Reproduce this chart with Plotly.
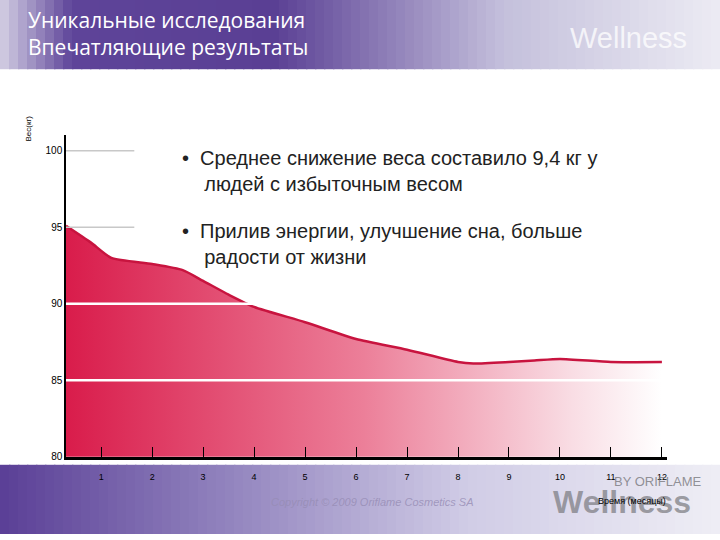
import plotly.graph_objects as go

months = [0.31, 0.8, 1.2, 2, 2.6, 3, 3.5, 4, 5, 6, 7, 8, 8.3, 9, 9.5, 10, 11, 12]
weight = [95.1, 94.0, 93.0, 92.6, 92.2, 91.5, 90.6, 89.8, 88.8, 87.7, 87.0, 86.2, 86.1, 86.2, 86.3, 86.4, 86.2, 86.2]
xticks = list(range(1, 13))
yticks = [80, 85, 90, 95, 100]

fig = go.Figure()
fig.add_trace(go.Scatter(x=months, y=weight, mode="lines", line=dict(color="#c8143f", width=2.5, shape="spline", smoothing=0.6),
                         fill="tozeroy",
                         fillgradient=dict(type="horizontal",
                                           colorscale=[[0, "#d91c4b"], [0.5, "#ec7f99"], [0.85, "#f9dde4"], [1, "#ffffff"]]),
                         hoverinfo="skip"))

shapes = []
N = 80
def hexmix(c1, c2, t):
    a = [int(c1[i:i+2], 16) for i in (1, 3, 5)]
    b = [int(c2[i:i+2], 16) for i in (1, 3, 5)]
    return "#%02x%02x%02x" % tuple(round(a[k] + (b[k]-a[k])*t) for k in range(3))
def grad(stops, y0, y1):
    for i in range(N):
        f = (i + 0.5) / N
        for j in range(len(stops)-1):
            if stops[j][0] <= f <= stops[j+1][0]:
                t = (f - stops[j][0]) / (stops[j+1][0] - stops[j][0])
                col = hexmix(stops[j][1], stops[j+1][1], t)
                break
        shapes.append(dict(type="rect", xref="paper", yref="paper", x0=i/N, x1=(i+1)/N+0.002, y0=y0, y1=y1,
                           fillcolor=col, line=dict(width=0), layer="below"))
grad([(0, "#d4d0e4"), (0.1, "#5e4499"), (0.38, "#5a3f94"), (0.7, "#c4c0dc"), (1, "#ecebf3")], 1-70/540, 1)
grad([(0, "#5a3f96"), (0.3, "#8f80bc"), (0.65, "#d0cce6"), (1, "#efeef5")], 0, 1-470/540)

for yv in [100, 95]:
    shapes.append(dict(type="line", xref="x", yref="y", x0=0.31, x1=1.65, y0=yv, y1=yv, line=dict(color="#c8c8c8", width=1.5)))
for yv in [90, 85]:
    shapes.append(dict(type="line", xref="x", yref="y", x0=0.31, x1=12.1, y0=yv, y1=yv, line=dict(color="white", width=2.5), layer="above"))

ann = [
    dict(text="Уникальные исследования<br>Впечатляющие результаты", x=26/720, y=1-4/540, xanchor="left", yanchor="top",
         font=dict(size=21, color="white", family="Open Sans"), align="left"),
    dict(text="Wellness", x=628/720, y=1-38/540, font=dict(size=29, color="rgba(255,255,255,0.75)", family="Liberation Sans")),
    dict(text="•  Среднее снижение веса составило 9,4 кг у<br>    людей с избыточным весом", x=180/720, y=1-147/540,
         xanchor="left", yanchor="top", align="left", font=dict(size=20, color="#222", family="Liberation Sans")),
    dict(text="•  Прилив энергии, улучшение сна, больше<br>    радости от жизни", x=180/720, y=1-220/540,
         xanchor="left", yanchor="top", align="left", font=dict(size=20, color="#222", family="Liberation Sans")),
    dict(text="Вес(кг)", x=29/720, y=1-130/540, textangle=-90, font=dict(size=8, color="black", family="Liberation Sans")),
    dict(text="<b>Wellness</b>", x=622/720, y=1-508/540, font=dict(size=32, color="rgba(120,120,125,0.7)", family="Liberation Sans")),
    dict(text="BY ORIFLAME", x=658/720, y=1-487/540, font=dict(size=13, color="rgba(120,120,125,0.8)", family="Liberation Sans")),
    dict(text="Время (месяцы)", x=632/720, y=1-507/540, font=dict(size=9, color="black", family="Liberation Sans")),
    dict(text="<i>Copyright © 2009 Oriflame Cosmetics SA</i>", x=372/720, y=1-508/540,
         font=dict(size=11, color="rgba(150,140,180,0.8)", family="Liberation Sans")),
]
for a in ann:
    a.update(xref="paper", yref="paper", showarrow=False)
    a.setdefault("xanchor", "center"); a.setdefault("yanchor", "middle")

fig.update_layout(
    autosize=True, margin=dict(l=0, r=0, t=0, b=0), paper_bgcolor="white", plot_bgcolor="white",
    showlegend=False, shapes=shapes, annotations=ann,
    xaxis=dict(domain=[66/720, 667/720], range=[0.31, 12.1], tickvals=xticks, ticks="inside", ticklen=10,
               tickcolor="black", showline=True, linecolor="black", linewidth=2.5, showgrid=False, zeroline=False,
               tickfont=dict(size=9, color="black", family="Liberation Sans"), ticklabelstandoff=10),
    yaxis=dict(domain=[1-462/540, 1-137/540], range=[80, 101], tickvals=yticks, ticks="", showline=True,
               linecolor="black", linewidth=1.5, showgrid=False, zeroline=False,
               tickfont=dict(size=10, color="black", family="Liberation Sans")),
)
fig.write_html("out.html", default_width="100vw", default_height="100vh",
               config=dict(displayModeBar=False, responsive=True),
               post_script="document.body.style.margin='0';document.body.style.overflow='hidden';")
